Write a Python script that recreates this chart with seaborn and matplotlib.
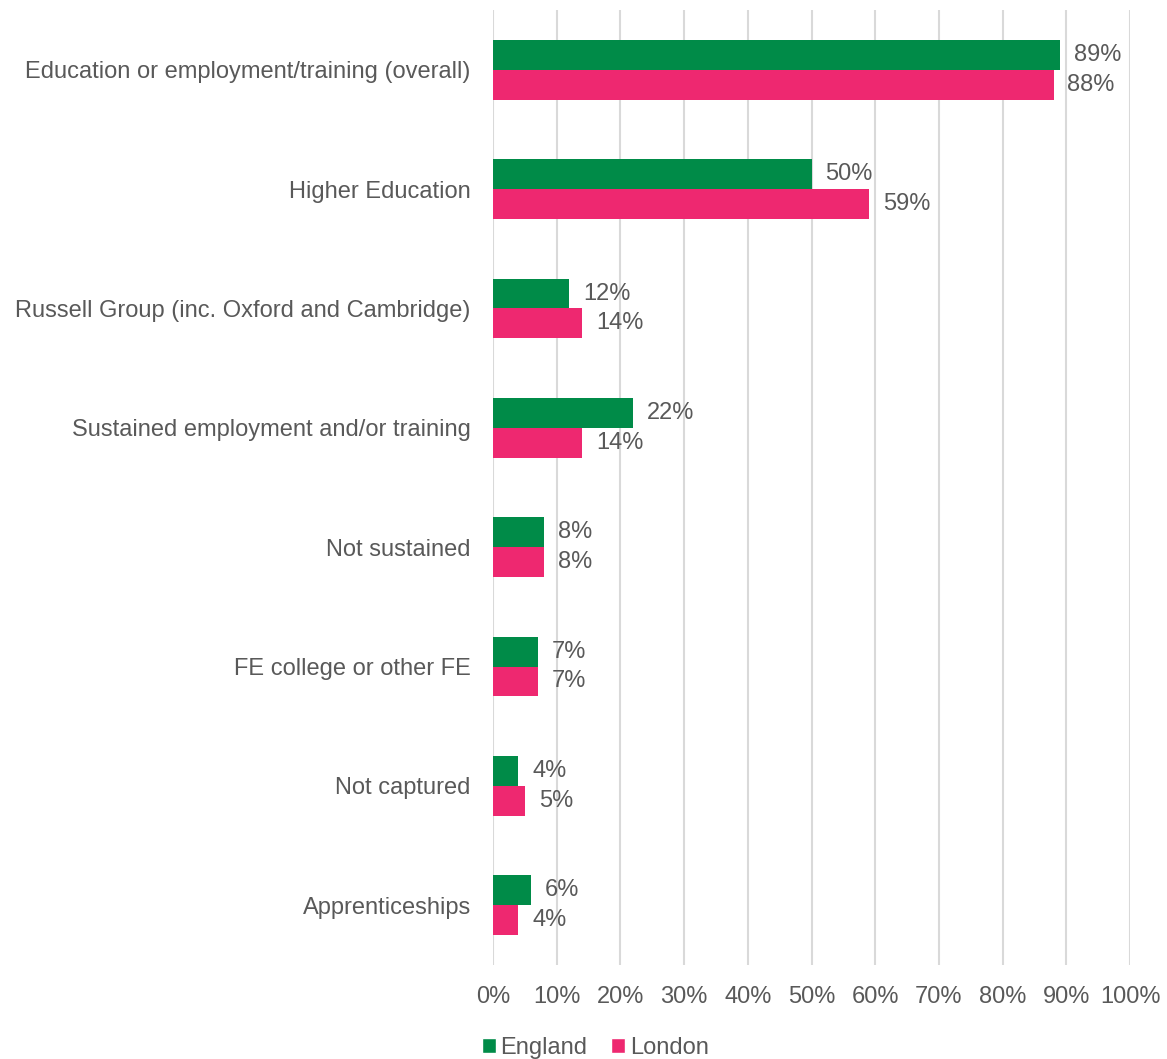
import matplotlib
matplotlib.use("Agg")
import matplotlib.pyplot as plt
import seaborn as sns
import pandas as pd
from matplotlib.ticker import PercentFormatter
from matplotlib.patches import Patch

categories = [
    "Education or employment/training (overall)",
    "Higher Education",
    "Russell Group (inc. Oxford and Cambridge)",
    "Sustained employment and/or training",
    "Not sustained",
    "FE college or other FE",
    "Not captured",
    "Apprenticeships",
]
england = [89, 50, 12, 22, 8, 7, 4, 6]
london = [88, 59, 14, 14, 8, 7, 5, 4]
series = ["England", "London"]
colors = ["#008B48", "#EE2870"]
xticks = list(range(0, 101, 10))

df = pd.DataFrame({
    "category": categories * 2,
    "value": england + london,
    "series": ["England"] * len(categories) + ["London"] * len(categories),
})

sns.set_theme(style="white")
plt.rcParams["font.family"] = ["Liberation Sans", "DejaVu Sans"]
text_color = "#595959"
fs = 17

fig = plt.figure(figsize=(11.67, 10.59), dpi=100)
ax = fig.add_axes([493 / 1167, 1 - 965 / 1059, (1130 - 493) / 1167, (965 - 10) / 1059])

sns.barplot(data=df, y="category", x="value", hue="series", order=categories,
            hue_order=series, palette=colors, width=0.5, gap=0, dodge=True,
            saturation=1, ax=ax, legend=False, orient="h", linewidth=0)

for cont in ax.containers:
    ax.bar_label(cont, labels=[f"{v:.0f}%" for v in cont.datavalues], padding=10,
                 fontsize=fs, color=text_color)

ax.set_xlim(0, 100)
ax.set_xticks(xticks)
ax.xaxis.set_major_formatter(PercentFormatter(decimals=0))
ax.set_xlabel("")
ax.set_ylabel("")
ax.grid(axis="x", color="#D9D9D9", linewidth=1.5)
ax.set_axisbelow(True)
for s in ax.spines.values():
    s.set_visible(False)
ax.tick_params(axis="x", length=0, pad=15, labelsize=fs, labelcolor=text_color)
ax.tick_params(axis="y", length=0, pad=16, labelsize=fs, labelcolor=text_color)

handles = [Patch(facecolor=c, label=s) for c, s in zip(colors, series)]
fig.legend(handles=handles, loc="lower center", bbox_to_anchor=(0.51, -0.02), ncol=2,
           frameon=False, fontsize=fs, labelcolor=text_color, handlelength=0.6,
           handleheight=0.6, handletextpad=0.2, columnspacing=1.0)

fig.savefig("out.png", dpi=100)
